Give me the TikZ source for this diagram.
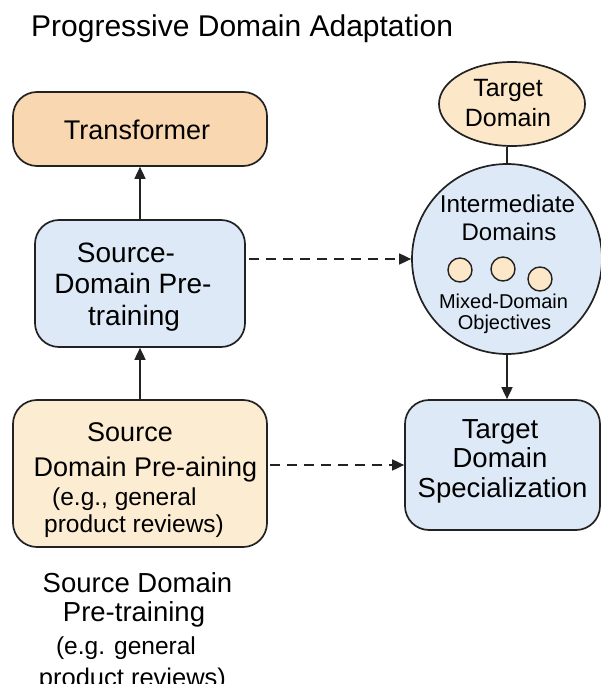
\documentclass[tikz,border=0pt]{standalone}
\usepackage{fontspec}
\setmainfont{Liberation Sans}
\usetikzlibrary{arrows.meta,shapes.geometric}
\definecolor{peachD}{HTML}{F9D7B0}
\definecolor{peachL}{HTML}{FCECD2}
\definecolor{peachE}{HTML}{FCE8C8}
\definecolor{paleblue}{HTML}{DDE9F6}
\definecolor{edge}{HTML}{222222}
\newcommand{\fsz}[1]{\fontsize{#1}{#1}\selectfont}
\tikzset{
  box/.style={draw=edge, line width=1.7pt, rounded corners=24pt, inner sep=0pt},
  roundshape/.style={draw=edge, line width=1.7pt, inner sep=0pt},
  txt/.style={anchor=base, inner sep=0pt, text=black},
  txtl/.style={anchor=base west, inner sep=0pt, text=black},
  conn/.style={draw=edge, line width=1.7pt},
  arr/.style={conn, -{Triangle[length=12pt,width=11pt]}},
  darr/.style={conn, dash pattern=on 10pt off 7pt, -{Triangle[length=12pt,width=11pt]}}
}
\begin{document}
\begin{tikzpicture}[x=1pt,y=-1pt]
\useasboundingbox (0,0) rectangle (601,684);
\fill[white] (0,0) rectangle (601,684);

% title
\node[txtl, font=\fsz{30}] (title) at (31,37) {Progressive Domain Adaptation};

% left column boxes
\node[box, fill=peachD, minimum width=254pt, minimum height=74pt] (trans) at (140,129) {};
\node[txt, font=\fsz{27}] (transT) at (137,140) {Transformer};

\node[box, fill=paleblue, minimum width=210pt, minimum height=127pt] (mid) at (140,283.5) {};
\node[txt, font=\fsz{28}] (midA) at (126,262) {Source-};
\node[txt, font=\fsz{28}] (midB) at (133,293.5) {Domain Pre-};
\node[txt, font=\fsz{28}] (midC) at (134,325) {training};

\node[box, fill=peachL, minimum width=254pt, minimum height=147pt] (low) at (140,473.5) {};
\node[txt, font=\fsz{27}] (lowA) at (130,441) {Source};
\node[txt, font=\fsz{27}] (lowB) at (145.5,476) {Domain Pre-aining};
\node[txtl, font=\fsz{24.5}] (lowC) at (52,505) {(e.g., general};
\node[txtl, font=\fsz{24.5}] (lowD) at (44,532) {product reviews)};

% caption below
\node[txt, font=\fsz{27.5}] (capA) at (137.5,592) {Source Domain};
\node[txt, font=\fsz{27.5}] (capB) at (134,621) {Pre-training};
\node[txt, font=\fsz{24.5}] (capC) at (126,654) {(e.g. general};
\node[txt, font=\fsz{25.5}] (capD) at (132.5,686) {product reviews)};

% right column
\node[roundshape, ellipse, fill=peachE, minimum width=146pt, minimum height=84pt] (tgt) at (512,104) {};
\node[txt, font=\fsz{25}] (tgtA) at (508,97) {Target};
\node[txt, font=\fsz{25}] (tgtB) at (508,127) {Domain};

\node[roundshape, circle, fill=paleblue, minimum size=190pt] (inter) at (507,259) {};
\node[txt, font=\fsz{24.3}] (interA) at (507.5,213) {Intermediate};
\node[txt, font=\fsz{24}] (interB) at (509,241) {Domains};
\node[roundshape, circle, fill=peachE, minimum size=24pt, line width=1.4pt] (o1) at (460,270) {};
\node[roundshape, circle, fill=peachE, minimum size=24pt, line width=1.4pt] (o2) at (503,269) {};
\node[roundshape, circle, fill=peachE, minimum size=24pt, line width=1.4pt] (o3) at (540,279) {};
\node[txt, font=\fsz{20}] (interC) at (503.5,308) {Mixed-Domain};
\node[txt, font=\fsz{20}] (interD) at (504.5,329) {Objectives};

\node[box, fill=paleblue, minimum width=195pt, minimum height=130pt] (tds) at (502.5,465) {};
\node[txt, font=\fsz{27.5}] (tdsA) at (500,438) {Target};
\node[txt, font=\fsz{27.5}] (tdsB) at (500,467) {Domain};
\node[txt, font=\fsz{27.5}] (tdsC) at (502.5,497) {Specialization};

% connectors
\draw[arr] (mid.north) -- (trans.south);
\draw[arr] (low.north) -- (mid.south);
\draw[conn] (inter.north) -- (inter.north |- tgt.south);
\draw[arr] (inter.south) -- (inter.south |- tds.north);
\draw[darr] ([xshift=3pt]mid.east |- inter.west) -- (inter.west);
\draw[darr] ([xshift=2pt]low.east |- tds.west) -- (tds.west);
\end{tikzpicture}
\end{document}
